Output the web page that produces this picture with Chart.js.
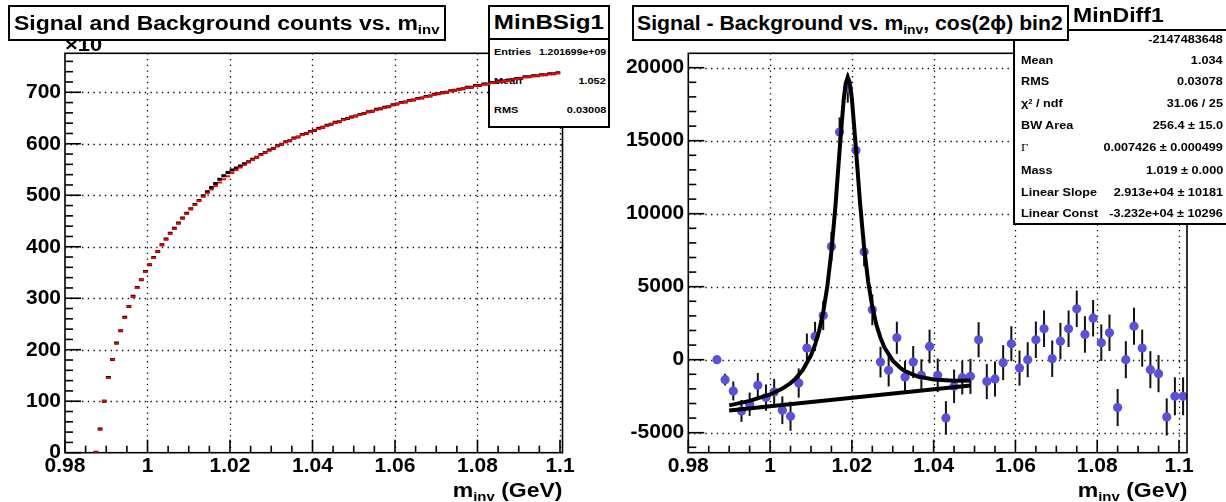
<!DOCTYPE html>
<html><head><meta charset="utf-8">
<script src="https://cdn.jsdelivr.net/npm/chart.js@4"></script>
<style>
body{margin:0;width:1226px;height:502px;position:relative;overflow:hidden;background:#fff;font-family:'Liberation Sans',Arial,sans-serif}
canvas{position:absolute;top:0}
.box{position:absolute;box-sizing:border-box;border:2px solid #000;background:#fff}
.t{position:absolute;white-space:nowrap;font-weight:bold;line-height:1;color:#000}
.s{display:inline-block;transform:scaleX(1.15)}
.l .s{transform-origin:0 50%}
.r .s{transform-origin:100% 50%}
.c .s{transform-origin:50% 50%}
.sub{font-size:0.65em;position:relative;top:0.3em}
.sup{font-size:0.6em;position:relative;top:-0.45em}
</style></head>
<body>
<canvas id="c1" width="613" height="502" style="left:0;z-index:1"></canvas>
<canvas id="c2" width="613" height="502" style="left:613px;z-index:1"></canvas>

<div class="t l" style="left:65px;top:35px;font-size:19px;z-index:3"><span class="s">×10</span></div>

<div class="box" style="left:8px;top:5px;width:438px;height:36px;z-index:5"></div>
<div class="t l" style="left:14px;top:13px;font-size:20px;z-index:6"><span class="s">Signal and Background counts vs. m<span class="sub">inv</span></span></div>

<!-- left stats box -->
<div class="box" style="left:488px;top:5px;width:122px;height:123px;z-index:4"></div>
<div style="position:absolute;left:488px;top:38px;width:122px;height:2px;background:#000;z-index:4"></div>
<div class="t c" style="left:488px;width:122px;text-align:center;top:10.7px;font-size:21px;z-index:4"><span class="s">MinBSig1</span></div>
<div class="t l" style="left:494px;top:47.4px;font-size:9.5px;z-index:4"><span class="s">Entries</span></div>
<div class="t r" style="right:620px;top:47.4px;font-size:9.5px;z-index:4"><span class="s" style="transform:scaleX(1.1)">1.201699e+09</span></div>
<div class="t l" style="left:494px;top:76.4px;font-size:9.5px;z-index:4"><span class="s">Mean</span></div>
<div class="t r" style="right:620px;top:76.4px;font-size:9.5px;z-index:4"><span class="s">1.052</span></div>
<div class="t l" style="left:494px;top:105.4px;font-size:9.5px;z-index:4"><span class="s">RMS</span></div>
<div class="t r" style="right:620px;top:105.4px;font-size:9.5px;z-index:4"><span class="s">0.03008</span></div>

<!-- right stats box -->
<div class="t l" style="left:1073px;top:5.2px;font-size:20px;z-index:4"><span class="s">MinDiff1</span></div>
<div class="box" style="left:1013px;top:29px;width:230px;height:196px;z-index:4"></div>
<div class="t r" style="right:3px;top:33.6px;font-size:11px;z-index:4"><span class="s">-2147483648</span></div>
<div class="t l" style="left:1021px;top:55.3px;font-size:11px;z-index:4"><span class="s">Mean</span></div>
<div class="t r" style="right:3px;top:55.3px;font-size:11px;z-index:4"><span class="s">1.034</span></div>
<div class="t l" style="left:1021px;top:76.3px;font-size:11px;z-index:4"><span class="s">RMS</span></div>
<div class="t r" style="right:3px;top:76.3px;font-size:11px;z-index:4"><span class="s">0.03078</span></div>
<div class="t l" style="left:1021px;top:97.6px;font-size:11px;z-index:4"><span class="s">χ<span class="sup">2</span> / ndf</span></div>
<div class="t r" style="right:3px;top:97.6px;font-size:11px;z-index:4"><span class="s">31.06 / 25</span></div>
<div class="t l" style="left:1021px;top:120.3px;font-size:11px;z-index:4"><span class="s">BW Area</span></div>
<div class="t r" style="right:3px;top:120.3px;font-size:11px;z-index:4"><span class="s">256.4 ± 15.0</span></div>
<div class="t l" style="left:1021px;top:142.3px;font-size:11px;z-index:4;font-weight:normal;font-family:'Liberation Serif',serif"><span class="s">Γ</span></div>
<div class="t r" style="right:3px;top:142.3px;font-size:11px;z-index:4"><span class="s">0.007426 ± 0.000499</span></div>
<div class="t l" style="left:1021px;top:164.6px;font-size:11px;z-index:4"><span class="s">Mass</span></div>
<div class="t r" style="right:3px;top:164.6px;font-size:11px;z-index:4"><span class="s">1.019 ± 0.000</span></div>
<div class="t l" style="left:1021px;top:186.9px;font-size:11px;z-index:4"><span class="s">Linear Slope</span></div>
<div class="t r" style="right:3px;top:186.9px;font-size:11px;z-index:4"><span class="s">2.913e+04 ± 10181</span></div>
<div class="t l" style="left:1021px;top:207.9px;font-size:11px;z-index:4"><span class="s">Linear Const</span></div>
<div class="t r" style="right:3px;top:207.9px;font-size:11px;z-index:4"><span class="s">-3.232e+04 ± 10296</span></div>

<div class="box" style="left:632px;top:5px;width:437px;height:36px;z-index:5"></div>
<div class="t l" style="left:637px;top:13px;font-size:20px;z-index:6"><span class="s" style="transform:scaleX(1.06)">Signal - Background vs. m<span class="sub">inv</span>, cos(2ϕ) bin2</span></div>

<!-- axis titles -->
<div class="t r" style="right:664px;top:480px;font-size:20px;z-index:4"><span class="s">m<span class="sub">inv</span> (GeV)</span></div>
<div class="t r" style="right:39px;top:480px;font-size:20px;z-index:4"><span class="s">m<span class="sub">inv</span> (GeV)</span></div>

<canvas id="c1o" width="613" height="502" style="left:0;z-index:7"></canvas>

<script>
// ---------- Left panel data: Signal and Background counts (bins of 0.001 GeV) ----------
const leftBinCenters = [
0.9875,0.9885,0.9895,0.9905,0.9915,0.9925,0.9935,0.9945,0.9955,0.9965,
0.9975,0.9985,0.9995,1.0005,1.0015,1.0025,1.0035,1.0045,1.0055,1.0065,
1.0075,1.0085,1.0095,1.0105,1.0115,1.0125,1.0135,1.0145,1.0155,1.0165,
1.0175,1.0185,1.0195,1.0205,1.0215,1.0225,1.0235,1.0245,1.0255,1.0265,
1.0275,1.0285,1.0295,1.0305,1.0315,1.0325,1.0335,1.0345,1.0355,1.0365,
1.0375,1.0385,1.0395,1.0405,1.0415,1.0425,1.0435,1.0445,1.0455,1.0465,
1.0475,1.0485,1.0495,1.0505,1.0515,1.0525,1.0535,1.0545,1.0555,1.0565,
1.0575,1.0585,1.0595,1.0605,1.0615,1.0625,1.0635,1.0645,1.0655,1.0665,
1.0675,1.0685,1.0695,1.0705,1.0715,1.0725,1.0735,1.0745,1.0755,1.0765,
1.0775,1.0785,1.0795,1.0805,1.0815,1.0825,1.0835,1.0845,1.0855,1.0865,
1.0875,1.0885,1.0895,1.0905,1.0915,1.0925,1.0935,1.0945,1.0955,1.0965,
1.0975,1.0985,1.0995];
// black: signal + background
const leftTotalCounts = [
1,46,100,146,181,213,237,263,284,304,
321,336,352,365,379,391,404,415,426,436,
446,456,465,474,482,490,499,507,515,523,
531,538,544,549,553,557,561,565,570,574,
579,583,588,591,596,599,604,606,611,613,
618,620,624,626,630,632,636,638,642,643,
647,649,652,654,657,659,662,663,667,668,
671,672,676,677,680,681,684,685,688,689,
692,693,696,697,699,700,703,704,706,707,
710,710,713,713,716,716,719,719,722,722,
724,725,727,727,730,730,732,732,734,734,
736,736,738];
// red: background
const leftBackgroundCounts = [
1,45,101,145,181,212,237,262,284,303,
320,336,351,365,378,391,403,414,425,435,
445,455,464,473,481,489,497,504,511,518,
525,531,537,543,549,554,559,564,569,574,
578,583,587,591,595,599,603,606,610,613,
617,620,623,626,629,632,635,638,641,643,
646,649,651,654,656,659,661,663,666,668,
670,672,675,677,679,681,683,685,687,689,
691,693,695,697,698,700,702,704,705,707,
709,710,712,713,715,716,718,719,721,722,
723,725,726,727,729,730,731,732,733,734,
735,736,737];
const leftXTicks = [0.98,1.0,1.02,1.04,1.06,1.08,1.1];
const leftXTickLabels = ['0.98','1','1.02','1.04','1.06','1.08','1.1'];
const leftYTicks = [0,100,200,300,400,500,600,700];
const leftYTickLabels = ['0','100','200','300','400','500','600','700'];

// ---------- Right panel data: Signal - Background (bins of 0.002 GeV) ----------
const rightBinCenters = [
0.987,0.989,0.991,0.993,0.995,0.997,0.999,1.001,1.003,1.005,
1.007,1.009,1.011,1.013,1.015,1.017,1.019,1.021,1.023,1.025,
1.027,1.029,1.031,1.033,1.035,1.037,1.039,1.041,1.043,1.045,
1.047,1.049,1.051,1.053,1.055,1.057,1.059,1.061,1.063,1.065,
1.067,1.069,1.071,1.073,1.075,1.077,1.079,1.081,1.083,1.085,
1.087,1.089,1.091,1.093,1.095,1.097,1.099,1.101];
const rightDiffValues = [
0,-1366,-2145,-3511,-3050,-1755,-2596,-2213,-3463,-3873,
-1598,793,1592,3026,7760,15595,18600,14344,7398,3415,
-164,-731,1503,-1189,-164,-1073,909,-1073,-3989,-1824,
-1230,-1141,1366,-1500,-1320,-205,1093,-574,0,1366,
2118,68,1270,2118,3484,1728,2842,1161,1844,-3279,
0,2295,793,-683,-956,-3921,-2507,-2507];
const rightDiffErrors = [
0,400,650,750,800,850,900,900,950,1000,
1000,1000,1000,1000,1000,1000,1000,1000,1000,1050,
1050,1100,1100,1100,1100,1100,1150,1150,1150,1150,
1150,1200,1200,1200,1200,1200,1200,1200,1200,1250,
1250,1250,1250,1250,1250,1250,1250,1250,1250,1270,
1270,1270,1270,1270,1270,1270,1300,1300];
// fitted Breit-Wigner + linear curve
const fitCurveX = [0.990,0.995,1.000,1.003,1.005,1.006,1.008,1.010,1.011,1.012,1.013,1.014,1.015,1.016,1.017,1.018,1.0185,1.019,1.0195,1.020,1.021,1.022,1.023,1.024,1.025,1.026,1.027,1.028,1.030,1.032,1.033,1.036,1.040,1.045,1.049];
const fitCurveY = [-3127,-2822,-2381,-1979,-1600,-1357,-709,298,1026,1986,3275,5031,7420,10575,14343,17828,18938,19344,18967,17887,14459,10750,7653,5322,3625,2394,1493,822,-68,-600,-784,-1141,-1359,-1440,-1431];
// linear background component
const linearBgX = [0.990,1.049];
const linearBgY = [-3481,-1763];
const rightXTicks = [0.98,1.0,1.02,1.04,1.06,1.08,1.1];
const rightXTickLabels = ['0.98','1','1.02','1.04','1.06','1.08','1.1'];
const rightYTicks = [-5000,0,5000,10000,15000,20000];
const rightYTickLabels = ['-5000','0','5000','10000','15000','20000'];

Chart.defaults.font.family = "'Liberation Sans', Arial, sans-serif";
Chart.defaults.color = '#000';

// ROOT-like frame: dotted grid, inward ticks, frame, error bars
const rootFrame = {
  id: 'rootFrame',
  beforeDatasetsDraw(chart, args, o) {
    const {ctx, chartArea: a} = chart;
    const xs = chart.scales.x, ys = chart.scales.y;
    if (o.enabled) {
      ctx.save();
      ctx.strokeStyle = '#000'; ctx.lineWidth = 1.3; ctx.setLineDash([1.3, 4.4]);
      o.xMajor.forEach(v => {
        const p = Math.round(xs.getPixelForValue(v)) + 0.5;
        if (p < a.left + 1.5 || p > a.right - 1) return;
        ctx.beginPath(); ctx.moveTo(p, a.top); ctx.lineTo(p, a.bottom); ctx.stroke();
      });
      o.yMajor.forEach(v => {
        const p = Math.round(ys.getPixelForValue(v)) + 0.5;
        if (p < a.top + 1 || p > a.bottom - 1.5) return;
        ctx.beginPath(); ctx.moveTo(a.left, p); ctx.lineTo(a.right, p); ctx.stroke();
      });
      ctx.restore();
    }
    chart.data.datasets.forEach(ds => {
      if (!ds.yErr) return;
      ctx.save(); ctx.strokeStyle = '#111'; ctx.lineWidth = 2;
      ds.data.forEach((pt, i) => {
        const e = ds.yErr[i]; if (!e) return;
        const px = xs.getPixelForValue(pt.x);
        ctx.beginPath(); ctx.moveTo(px, ys.getPixelForValue(pt.y + e)); ctx.lineTo(px, ys.getPixelForValue(pt.y - e)); ctx.stroke();
      });
      ctx.restore();
    });
  },
  afterDraw(chart, args, o) {
    if (!o.enabled) return;
    const {ctx, chartArea: a} = chart;
    const xs = chart.scales.x, ys = chart.scales.y;
    ctx.save();
    ctx.strokeStyle = '#000'; ctx.lineWidth = 1.6; ctx.setLineDash([]);
    const isMajor = (v, m) => Math.abs(v / m - Math.round(v / m)) < 1e-6;
    for (let k = Math.ceil(xs.min / o.xMinor - 1e-9); k * o.xMinor <= xs.max + 1e-9; k++) {
      const v = k * o.xMinor; const p = xs.getPixelForValue(v);
      const len = isMajor(v, o.xMajorStep) ? 13 : 7;
      ctx.beginPath(); ctx.moveTo(p, a.bottom); ctx.lineTo(p, a.bottom - len); ctx.stroke();
    }
    for (let k = Math.ceil(ys.min / o.yMinor - 1e-9); k * o.yMinor <= ys.max + 1e-9; k++) {
      const v = k * o.yMinor; const p = ys.getPixelForValue(v);
      const len = isMajor(v, o.yMajorStep) ? 16 : 8;
      ctx.beginPath(); ctx.moveTo(a.left, p); ctx.lineTo(a.left + len, p); ctx.stroke();
    }
    ctx.strokeRect(a.left, a.top, a.right - a.left, a.bottom - a.top);
    ctx.restore();
  }
};

function makeScale(min, max, tickVals, tickLabels, size, isX, showLabels, pad) {
  return {
    type: 'linear', min: min, max: max, position: isX ? 'bottom' : 'left',
    grid: { display: false, drawTicks: false },
    border: { display: false },
    ticks: {
      display: showLabels, autoSkip: false, maxRotation: 0, minRotation: 0,
      font: { size: 21, weight: 'bold' }, color: '#000', padding: pad,
      callback: (v, i) => tickLabels[i]
    },
    afterBuildTicks: s => { s.ticks = tickVals.map(v => ({ value: v })); },
    afterFit: s => { if (isX) s.height = size; else s.width = size; }
  };
}

function makeChart(canvas, datasets, cfg, showAxes) {
  return new Chart(canvas, {
    type: 'scatter',
    data: { datasets: datasets },
    options: {
      responsive: false, animation: false, devicePixelRatio: 1, events: [],
      layout: { padding: { left: 0, right: cfg.padRight, top: 53.3, bottom: 0 } },
      scales: {
        x: makeScale(cfg.xMin, cfg.xMax, cfg.xTicks, cfg.xLabels, 49.3, true, showAxes, 1),
        y: makeScale(cfg.yMin, cfg.yMax, cfg.yTicks, cfg.yLabels, cfg.yWidth, false, showAxes, 4)
      },
      plugins: {
        legend: { display: false }, tooltip: { enabled: false },
        rootFrame: {
          enabled: showAxes, xMajor: cfg.xTicks, yMajor: cfg.yTicks,
          xMinor: 0.005, xMajorStep: 0.02, yMinor: cfg.yMinor, yMajorStep: cfg.yMajorStep
        }
      }
    },
    plugins: [rootFrame]
  });
}

const leftCfg = { padRight: 50.5, xMin: 0.98, xMax: 1.10061, yMin: 0, yMax: 775.7, yWidth: 65,
  xTicks: leftXTicks, xLabels: leftXTickLabels, yTicks: leftYTicks, yLabels: leftYTickLabels,
  yMinor: 20, yMajorStep: 100 };
const rightCfg = { padRight: 39, xMin: 0.98, xMax: 1.10196, yMin: -6370, yMax: 20986, yWidth: 75.3,
  xTicks: rightXTicks, xLabels: rightXTickLabels, yTicks: rightYTicks, yLabels: rightYTickLabels,
  yMinor: 1000, yMajorStep: 5000 };

// Left: axes layer (below stats box) and data layer (above it)
makeChart(document.getElementById('c1'), [], leftCfg, true);
makeChart(document.getElementById('c1o'), [
  { label: 'Background', data: leftBinCenters.map((x, i) => ({ x: x, y: leftBackgroundCounts[i] })),
    pointStyle: 'line', pointRadius: 2.2, pointBorderWidth: 2, pointBorderColor: '#ff0000', pointBackgroundColor: '#ff0000' },
  { label: 'Signal+Background', data: leftBinCenters.map((x, i) => ({ x: x, y: leftTotalCounts[i] })),
    pointStyle: 'line', pointRadius: 2.4, pointBorderWidth: 3, pointBorderColor: '#000', pointBackgroundColor: '#000' }
], leftCfg, false);

// Right
makeChart(document.getElementById('c2'), [
  { label: 'BW + linear fit', data: fitCurveX.map((x, i) => ({ x: x, y: fitCurveY[i] })),
    showLine: true, borderColor: '#000', borderWidth: 4, pointRadius: 0, tension: 0, fill: false },
  { label: 'Linear background', data: linearBgX.map((x, i) => ({ x: x, y: linearBgY[i] })),
    showLine: true, borderColor: '#000', borderWidth: 4, pointRadius: 0, tension: 0, fill: false },
  { label: 'Signal - Background', data: rightBinCenters.map((x, i) => ({ x: x, y: rightDiffValues[i] })),
    yErr: rightDiffErrors, pointStyle: 'circle', pointRadius: 4.6, pointBorderWidth: 0,
    pointBackgroundColor: '#5a50dc', pointBorderColor: '#5a50dc' }
], rightCfg, true);
</script>
</body></html>
